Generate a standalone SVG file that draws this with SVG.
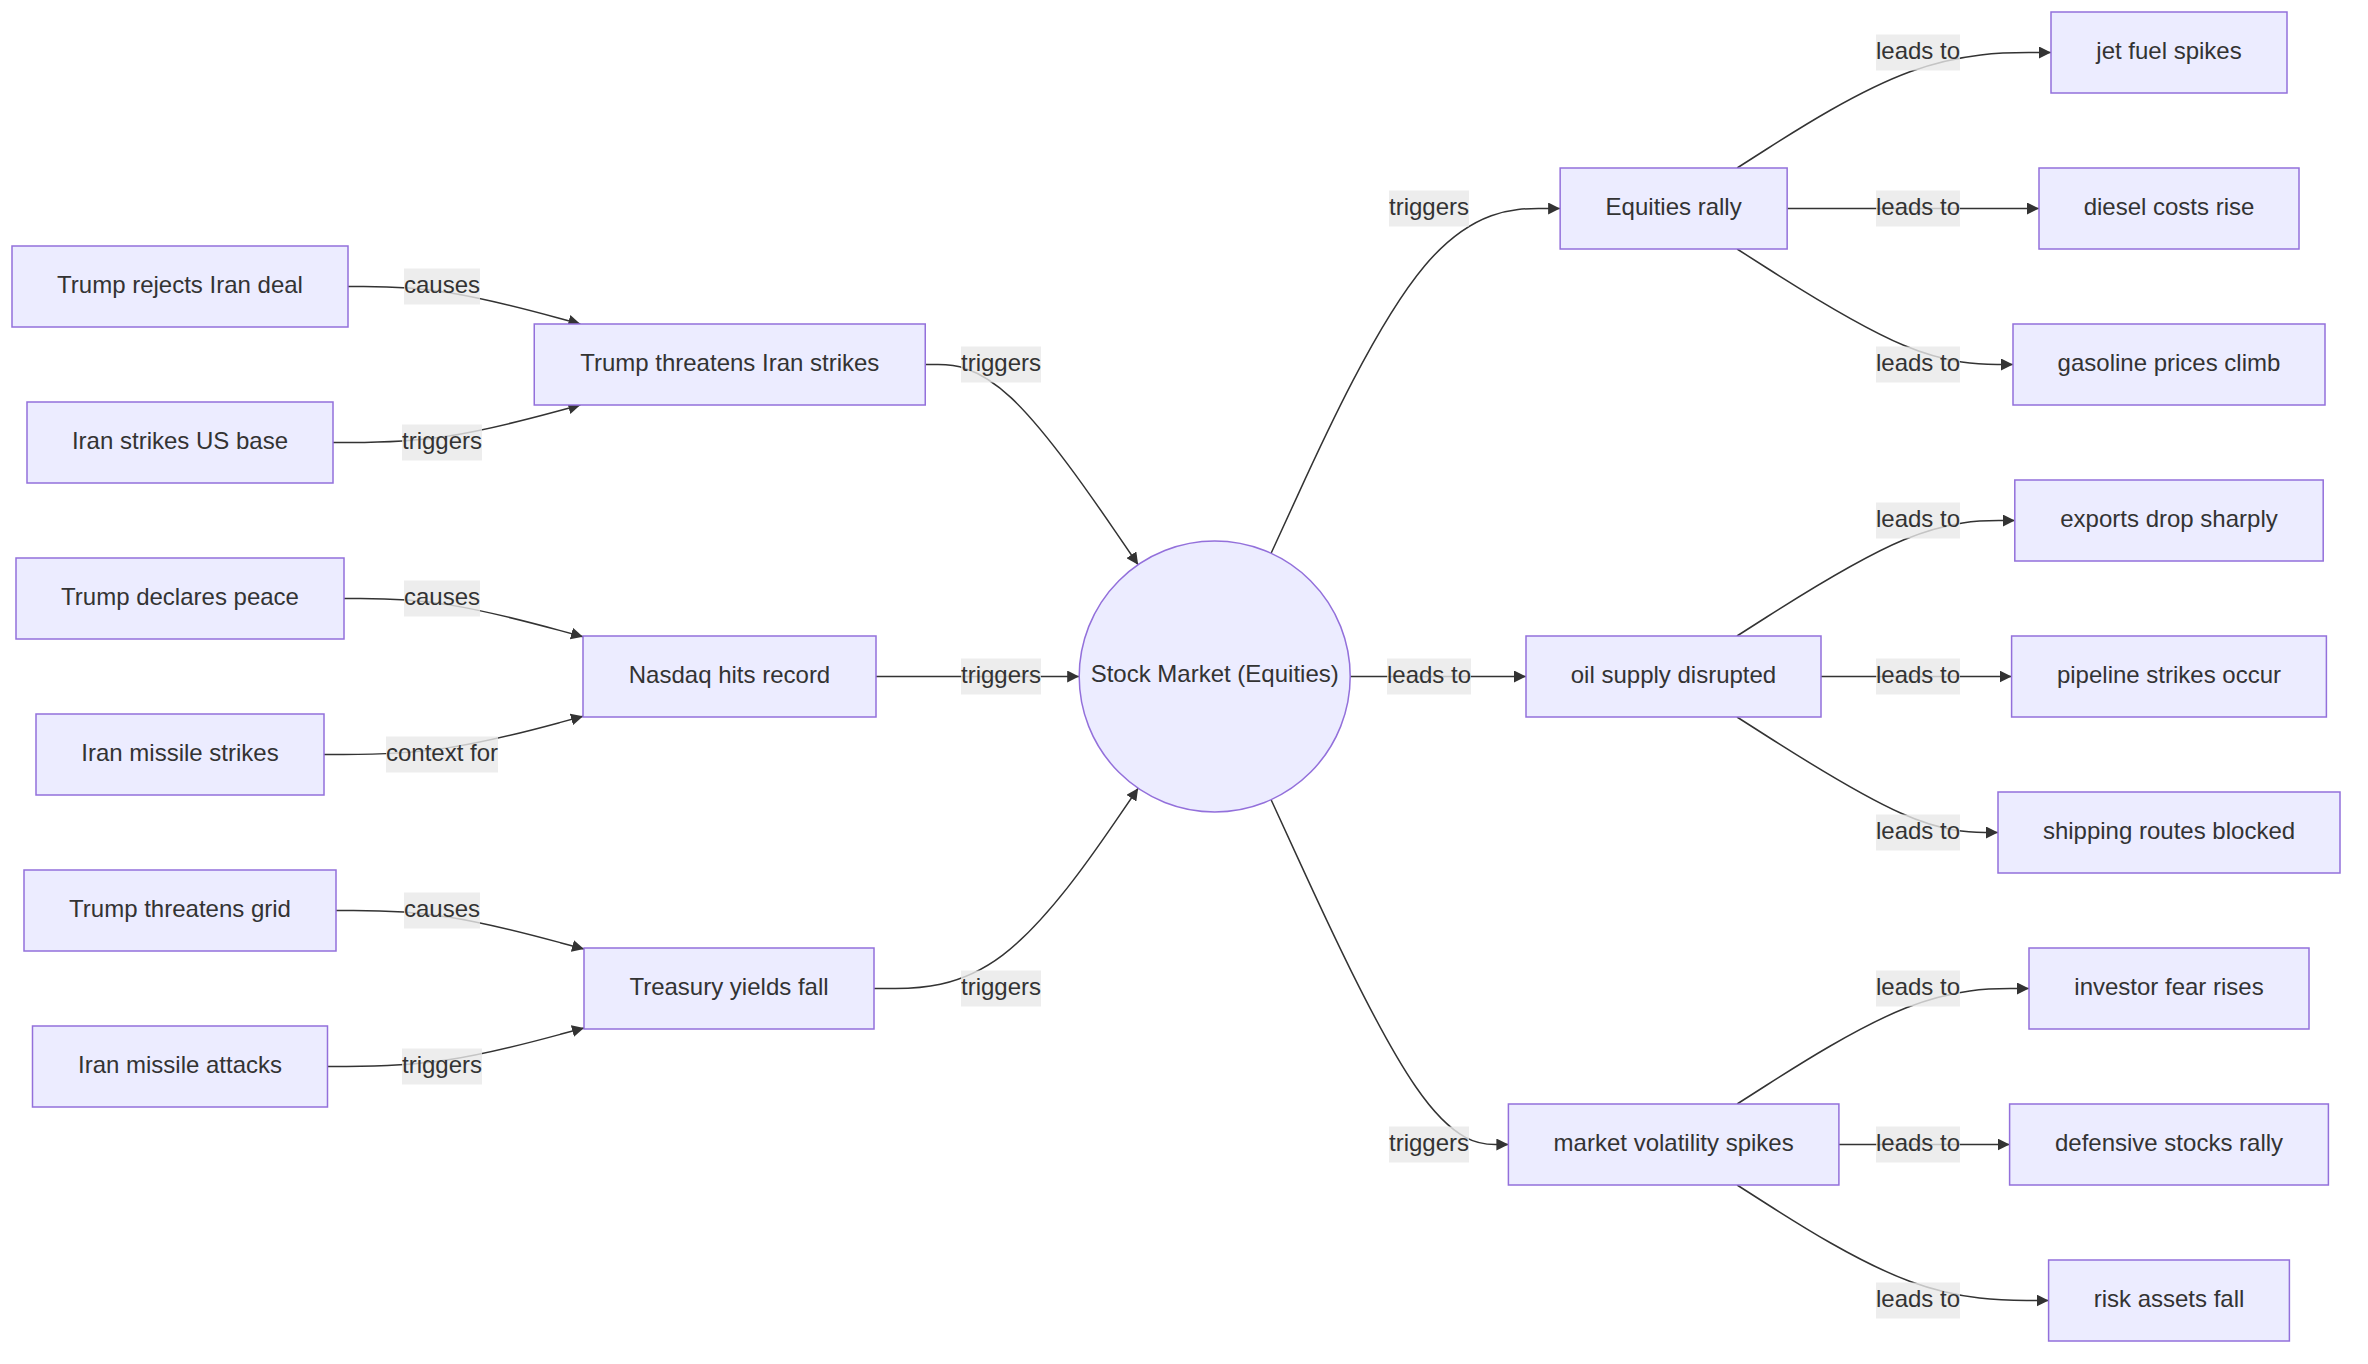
<svg xmlns="http://www.w3.org/2000/svg" width="2368" height="1364" viewBox="0 0 2368 1364">
  <defs>
    <marker id="arrow" viewBox="0 0 10 10" refX="10" refY="5" markerUnits="userSpaceOnUse" markerWidth="12" markerHeight="12" orient="auto">
      <path d="M0,0 L10,5 L0,10 z" fill="#333333"/>
    </marker>
    <style>
      .edge { fill: none; stroke: #333333; stroke-width: 1.5; marker-end: url(#arrow); }
      .lbl-bg { fill: #e8e8e8; fill-opacity: 0.8; }
      .lbl { font-family: "Liberation Sans", Arial, sans-serif; font-size: 24px; fill: #333333; text-anchor: middle; }
      .box { fill: #ECECFF; stroke: #9370DB; stroke-width: 1.5; }
      .txt { font-family: "Liberation Sans", Arial, sans-serif; font-size: 24px; fill: #333333; text-anchor: middle; }
    </style>
  </defs>
  <rect width="2368" height="1364" fill="#ffffff"/>

  <!-- connectors (basis curves through source, label point and target) -->
  <g id="edges">
    <path class="edge" d="M348,286.5 L363.67,286.5 C379.33,286.5 410.67,286.5 449.39,292.75 C488.12,299 534.23,311.5 557.29,317.75 L580.35,324"/>
    <path class="edge" d="M333,442.5 L351.17,442.5 C369.33,442.5 405.67,442.5 446.89,436.25 C488.12,430 534.23,417.5 557.29,411.25 L580.35,405"/>
    <path class="edge" d="M344,598.5 L360.33,598.5 C376.67,598.5 409.33,598.5 449.17,604.88 C489,611.25 536,624 559.5,630.38 L583,636.75"/>
    <path class="edge" d="M324,754.5 L343.67,754.5 C363.33,754.5 402.67,754.5 445.83,748.13 C489,741.75 536,729 559.5,722.63 L583,716.25"/>
    <path class="edge" d="M336,910.5 L353.67,910.5 C371.33,910.5 406.67,910.5 448,916.93 C489.33,923.36 536.67,936.23 560.33,942.66 L584,949.09"/>
    <path class="edge" d="M327.5,1066.5 L346.58,1066.5 C365.67,1066.5 403.83,1066.5 446.58,1060.07 C489.33,1053.64 536.67,1040.77 560.33,1034.34 L584,1027.91"/>

    <path class="edge" d="M925.5,364.5 L938.08,364.5 C950.67,364.5 975.83,364.5 1011.27,397.87 C1046.71,431.24 1092.42,497.97 1115.28,531.34 L1138.13,564.71"/>
    <path class="edge" d="M876,676.5 L1079.2,676.5"/>
    <path class="edge" d="M874,988.5 L895.17,988.5 C916.33,988.5 958.67,988.5 1002.69,955.13 C1046.71,921.76 1092.42,855.03 1115.28,821.66 L1138.13,788.29"/>

    <path class="edge" d="M1271.11,553.3 L1297.43,495.83 C1323.74,438.37 1376.37,323.43 1424.54,265.97 C1472.72,208.5 1516.43,208.5 1538.29,208.5 L1560.15,208.5"/>
    <path class="edge" d="M1350.2,676.5 L1526,676.5"/>
    <path class="edge" d="M1271.11,799.7 L1297.43,857.17 C1323.74,914.63 1376.37,1029.57 1415.92,1087.03 C1455.47,1144.5 1481.93,1144.5 1495.17,1144.5 L1508.4,1144.5"/>

    <path class="edge" d="M1737.09,168 L1767.24,148.75 C1797.39,129.5 1857.7,91 1910.02,71.75 C1962.33,52.5 2006.67,52.5 2028.83,52.5 L2051,52.5"/>
    <path class="edge" d="M1787.15,208.5 L2039,208.5"/>
    <path class="edge" d="M1737.09,249 L1767.24,268.25 C1797.39,287.5 1857.7,326 1903.68,345.25 C1949.67,364.5 1981.33,364.5 1997.17,364.5 L2013,364.5"/>
    <path class="edge" d="M1736.97,636 L1767.14,616.75 C1797.31,597.5 1857.66,559 1903.96,539.75 C1950.27,520.5 1982.53,520.5 1998.67,520.5 L2014.8,520.5"/>
    <path class="edge" d="M1821,676.5 L2011.6,676.5"/>
    <path class="edge" d="M1736.97,717 L1767.14,736.25 C1797.31,755.5 1857.66,794 1901.16,813.25 C1944.67,832.5 1971.33,832.5 1984.67,832.5 L1998,832.5"/>
    <path class="edge" d="M1737.09,1104 L1767.24,1084.75 C1797.39,1065.5 1857.7,1027 1906.35,1007.75 C1955,988.5 1992,988.5 2010.5,988.5 L2029,988.5"/>
    <path class="edge" d="M1838.9,1144.5 L2009.6,1144.5"/>
    <path class="edge" d="M1737.09,1185 L1767.24,1204.25 C1797.39,1223.5 1857.7,1262 1909.62,1281.25 C1961.53,1300.5 2005.07,1300.5 2026.83,1300.5 L2048.6,1300.5"/>
  </g>

  <!-- connector labels -->
  <g id="edge-labels">
    <rect class="lbl-bg" x="404" y="268.5" width="76" height="36"/><text class="lbl" x="442" y="292.5">causes</text>
    <rect class="lbl-bg" x="402" y="424.5" width="80" height="36"/><text class="lbl" x="442" y="448.5">triggers</text>
    <rect class="lbl-bg" x="404" y="580.5" width="76" height="36"/><text class="lbl" x="442" y="604.5">causes</text>
    <rect class="lbl-bg" x="386" y="736.5" width="112" height="36"/><text class="lbl" x="442" y="760.5">context for</text>
    <rect class="lbl-bg" x="404" y="892.5" width="76" height="36"/><text class="lbl" x="442" y="916.5">causes</text>
    <rect class="lbl-bg" x="402" y="1048.5" width="80" height="36"/><text class="lbl" x="442" y="1072.5">triggers</text>

    <rect class="lbl-bg" x="961" y="346.5" width="80" height="36"/><text class="lbl" x="1001" y="370.5">triggers</text>
    <rect class="lbl-bg" x="961" y="658.5" width="80" height="36"/><text class="lbl" x="1001" y="682.5">triggers</text>
    <rect class="lbl-bg" x="961" y="970.5" width="80" height="36"/><text class="lbl" x="1001" y="994.5">triggers</text>

    <rect class="lbl-bg" x="1389" y="190.5" width="80" height="36"/><text class="lbl" x="1429" y="214.5">triggers</text>
    <rect class="lbl-bg" x="1387" y="658.5" width="84" height="36"/><text class="lbl" x="1429" y="682.5">leads to</text>
    <rect class="lbl-bg" x="1389" y="1126.5" width="80" height="36"/><text class="lbl" x="1429" y="1150.5">triggers</text>

    <rect class="lbl-bg" x="1876" y="34.5" width="84" height="36"/><text class="lbl" x="1918" y="58.5">leads to</text>
    <rect class="lbl-bg" x="1876" y="190.5" width="84" height="36"/><text class="lbl" x="1918" y="214.5">leads to</text>
    <rect class="lbl-bg" x="1876" y="346.5" width="84" height="36"/><text class="lbl" x="1918" y="370.5">leads to</text>
    <rect class="lbl-bg" x="1876" y="502.5" width="84" height="36"/><text class="lbl" x="1918" y="526.5">leads to</text>
    <rect class="lbl-bg" x="1876" y="658.5" width="84" height="36"/><text class="lbl" x="1918" y="682.5">leads to</text>
    <rect class="lbl-bg" x="1876" y="814.5" width="84" height="36"/><text class="lbl" x="1918" y="838.5">leads to</text>
    <rect class="lbl-bg" x="1876" y="970.5" width="84" height="36"/><text class="lbl" x="1918" y="994.5">leads to</text>
    <rect class="lbl-bg" x="1876" y="1126.5" width="84" height="36"/><text class="lbl" x="1918" y="1150.5">leads to</text>
    <rect class="lbl-bg" x="1876" y="1282.5" width="84" height="36"/><text class="lbl" x="1918" y="1306.5">leads to</text>
  </g>

  <!-- causes (left column) -->
  <g id="trump-rejects-deal"><rect class="box" x="12" y="246" width="336" height="81"/><text class="txt" x="180" y="292.5">Trump rejects Iran deal</text></g>
  <g id="iran-strikes-base"><rect class="box" x="27" y="402" width="306" height="81"/><text class="txt" x="180" y="448.5">Iran strikes US base</text></g>
  <g id="trump-declares-peace"><rect class="box" x="16" y="558" width="328" height="81"/><text class="txt" x="180" y="604.5">Trump declares peace</text></g>
  <g id="iran-missile-strikes"><rect class="box" x="36" y="714" width="288" height="81"/><text class="txt" x="180" y="760.5">Iran missile strikes</text></g>
  <g id="trump-threatens-grid"><rect class="box" x="24" y="870" width="312" height="81"/><text class="txt" x="180" y="916.5">Trump threatens grid</text></g>
  <g id="iran-missile-attacks"><rect class="box" x="32.5" y="1026" width="295" height="81"/><text class="txt" x="180" y="1072.5">Iran missile attacks</text></g>

  <!-- intermediate events -->
  <g id="trump-threatens-strikes"><rect class="box" x="534.25" y="324" width="391" height="81"/><text class="txt" x="729.75" y="370.5">Trump threatens Iran strikes</text></g>
  <g id="nasdaq-record"><rect class="box" x="583" y="636" width="293" height="81"/><text class="txt" x="729.5" y="682.5">Nasdaq hits record</text></g>
  <g id="treasury-yields"><rect class="box" x="584" y="948" width="290" height="81"/><text class="txt" x="729" y="994.5">Treasury yields fall</text></g>

  <!-- hub -->
  <g id="stock-market"><circle class="box" cx="1214.7" cy="676.5" r="135.5"/><text class="txt" x="1214.7" y="682">Stock Market (Equities)</text></g>

  <!-- first-order effects -->
  <g id="equities-rally"><rect class="box" x="1560.15" y="168" width="227" height="81"/><text class="txt" x="1673.65" y="214.5">Equities rally</text></g>
  <g id="oil-supply"><rect class="box" x="1526" y="636" width="295" height="81"/><text class="txt" x="1673.5" y="682.5">oil supply disrupted</text></g>
  <g id="market-volatility"><rect class="box" x="1508.4" y="1104" width="330.5" height="81"/><text class="txt" x="1673.65" y="1150.5">market volatility spikes</text></g>

  <!-- second-order effects -->
  <g id="jet-fuel"><rect class="box" x="2051" y="12" width="236" height="81"/><text class="txt" x="2169" y="58.5">jet fuel spikes</text></g>
  <g id="diesel-costs"><rect class="box" x="2039" y="168" width="260" height="81"/><text class="txt" x="2169" y="214.5">diesel costs rise</text></g>
  <g id="gasoline-prices"><rect class="box" x="2013" y="324" width="312" height="81"/><text class="txt" x="2169" y="370.5">gasoline prices climb</text></g>
  <g id="exports-drop"><rect class="box" x="2014.8" y="480" width="308.4" height="81"/><text class="txt" x="2169" y="526.5">exports drop sharply</text></g>
  <g id="pipeline-strikes"><rect class="box" x="2011.6" y="636" width="314.8" height="81"/><text class="txt" x="2169" y="682.5">pipeline strikes occur</text></g>
  <g id="shipping-routes"><rect class="box" x="1998" y="792" width="342" height="81"/><text class="txt" x="2169" y="838.5">shipping routes blocked</text></g>
  <g id="investor-fear"><rect class="box" x="2029" y="948" width="280" height="81"/><text class="txt" x="2169" y="994.5">investor fear rises</text></g>
  <g id="defensive-stocks"><rect class="box" x="2009.6" y="1104" width="318.8" height="81"/><text class="txt" x="2169" y="1150.5">defensive stocks rally</text></g>
  <g id="risk-assets"><rect class="box" x="2048.6" y="1260" width="240.8" height="81"/><text class="txt" x="2169" y="1306.5">risk assets fall</text></g>
</svg>
